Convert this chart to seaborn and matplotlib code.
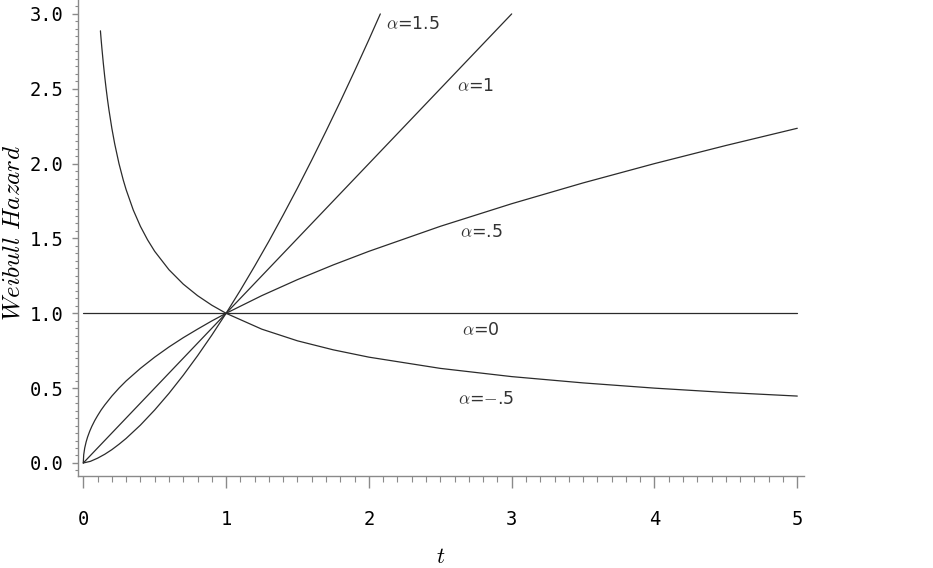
import numpy as np
import pandas as pd
import matplotlib
matplotlib.use("Agg")
import matplotlib.pyplot as plt
import seaborn as sns
from matplotlib.ticker import MultipleLocator

# ---- data ----
t_a15 = [0, 0.05, 0.1, 0.15, 0.2, 0.25, 0.3, 0.4, 0.5, 0.6, 0.7, 0.8, 0.9, 1.0, 1.1, 1.2,
         1.3, 1.4, 1.5, 1.6, 1.7, 1.8, 1.9, 2.0, 2.08]
h_a15 = [0, 0.011, 0.032, 0.058, 0.089, 0.125, 0.164, 0.253, 0.354, 0.465, 0.586, 0.716,
         0.854, 1.0, 1.154, 1.315, 1.482, 1.657, 1.837, 2.024, 2.217, 2.415, 2.619,
         2.828, 3.0]

t_a1 = [0, 1, 2, 3]
h_a1 = [0, 1, 2, 3]

t_a05 = [0, 0.003, 0.01, 0.02, 0.03, 0.045, 0.06, 0.08, 0.1, 0.125, 0.15, 0.2, 0.25, 0.3,
         0.4, 0.5, 0.6, 0.7, 0.8, 0.9, 1.0, 1.25, 1.5, 1.75, 2.0, 2.5, 3.0, 3.5, 4.0,
         4.5, 5.0]
h_a05 = [0, 0.055, 0.1, 0.141, 0.173, 0.212, 0.245, 0.283, 0.316, 0.354, 0.387, 0.447,
         0.5, 0.548, 0.632, 0.707, 0.775, 0.837, 0.894, 0.949, 1.0, 1.118, 1.225, 1.323,
         1.414, 1.581, 1.732, 1.871, 2.0, 2.121, 2.236]

t_a0 = [0, 5]
h_a0 = [1, 1]

t_am05 = [0.12, 0.125, 0.13, 0.14, 0.15, 0.16, 0.17, 0.18, 0.2, 0.22, 0.25, 0.28, 0.3,
          0.35, 0.4, 0.45, 0.5, 0.6, 0.7, 0.8, 0.9, 1.0, 1.25, 1.5, 1.75, 2.0, 2.5, 3.0,
          3.5, 4.0, 4.5, 5.0]
h_am05 = [2.887, 2.828, 2.774, 2.673, 2.582, 2.5, 2.425, 2.357, 2.236, 2.132, 2.0, 1.890,
          1.826, 1.690, 1.581, 1.491, 1.414, 1.291, 1.195, 1.118, 1.054, 1.0, 0.894,
          0.816, 0.756, 0.707, 0.632, 0.577, 0.535, 0.5, 0.471, 0.447]

curve_names = ["1.5", "1", ".5", "0", "-.5"]
label_texts = [r"$\alpha$=1.5", r"$\alpha$=1", r"$\alpha$=.5", r"$\alpha$=0", r"$\alpha$=$-$.5"]
label_t = [2.31, 2.75, 2.79, 2.78, 2.82]
label_h = [2.93, 2.52, 1.54, 0.89, 0.43]

x_ticks = [0, 1, 2, 3, 4, 5]
y_ticks = [0.0, 0.5, 1.0, 1.5, 2.0, 2.5, 3.0]
y_ticklabels = ["0.0", "0.5", "1.0", "1.5", "2.0", "2.5", "3.0"]

# ---- build long-form table ----
frames = []
for name, tt, hh in zip(curve_names,
                        [t_a15, t_a1, t_a05, t_a0, t_am05],
                        [h_a15, h_a1, h_a05, h_a0, h_am05]):
    frames.append(pd.DataFrame({"t": tt, "h": hh, "alpha": name}))
df = pd.concat(frames, ignore_index=True)

sns.set_theme(style="white")
plt.rcParams["mathtext.fontset"] = "cm"

fig = plt.figure(figsize=(9.33, 5.68), dpi=100)
ax = fig.add_axes([78 / 933, 1 - 476 / 568, 726 / 933, 476 / 568])

line_col = "#2b2b2b"
sns.lineplot(data=df, x="t", y="h", hue="alpha", units="alpha", estimator=None,
             palette=[line_col] * 5, legend=False, linewidth=0.9, sort=False, ax=ax)

ax.set_xlim(-0.037, 5.047)
ax.set_ylim(-0.087, 3.093)

spine_col = "#8a8a8a"
for s in ["top", "right"]:
    ax.spines[s].set_visible(False)
for s in ["left", "bottom"]:
    ax.spines[s].set_color(spine_col)
    ax.spines[s].set_linewidth(1.0)

ax.set_xticks(x_ticks)
ax.set_xticklabels([str(v) for v in x_ticks])
ax.set_yticks(y_ticks)
ax.set_yticklabels(y_ticklabels)
ax.xaxis.set_minor_locator(MultipleLocator(0.1))
ax.yaxis.set_minor_locator(MultipleLocator(0.05))

ax.tick_params(axis="x", which="major", direction="out", length=8.6, width=1.0,
               color=spine_col, pad=16, labelsize=13.5, bottom=True)
ax.tick_params(axis="x", which="minor", direction="out", length=4.3, width=0.8,
               color=spine_col, bottom=True)
ax.tick_params(axis="y", which="major", direction="out", length=4.5, width=1.0,
               color=spine_col, pad=6, labelsize=13.5, left=True)
ax.tick_params(axis="y", which="minor", direction="out", length=2.3, width=0.8,
               color=spine_col, left=True)
for lab in ax.get_xticklabels() + ax.get_yticklabels():
    lab.set_family("DejaVu Sans Mono")
    lab.set_color("black")

ax.set_xlabel(r"$t$", fontsize=16, color="black")
ax.xaxis.set_label_coords(0.5, -0.15)
ax.set_ylabel(r"$Weibull\ Hazard$", fontsize=18, color="black")
ax.yaxis.set_label_coords(-0.074, 0.51)

for txt, tx, ty in zip(label_texts, label_t, label_h):
    ax.text(tx, ty, txt, fontsize=12.5, color="#333333", ha="center", va="center",
            family="DejaVu Sans")

fig.savefig("out.png", dpi=100)
